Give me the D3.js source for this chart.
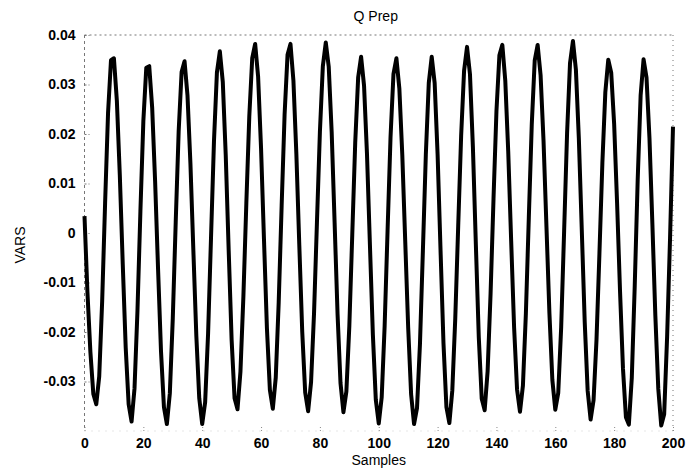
<!DOCTYPE html>
<html>
<head>
<meta charset="utf-8">
<script src="https://cdn.jsdelivr.net/npm/d3@7"></script>
<style>
  html, body { margin: 0; padding: 0; background: #fff; }
  svg text { font-family: "Liberation Sans", Arial, Helvetica, sans-serif; fill: #000; }
</style>
</head>
<body>
<svg id="chart" width="686" height="469"></svg>
<script>
// Reactive power trace, one value per sample (0..200)
const samples = d3.range(0, 201);
const vars = [
  0.0034, -0.0120, -0.0240, -0.0325, -0.0346, -0.0290, -0.0138, 0.0060, 0.0242, 0.0349,
  0.0353, 0.0267, 0.0117, -0.0063, -0.0231, -0.0346, -0.0381, -0.0314, -0.0157, 0.0044,
  0.0226, 0.0334, 0.0337, 0.0253, 0.0104, -0.0073, -0.0239, -0.0352, -0.0386, -0.0324,
  -0.0173, 0.0022, 0.0205, 0.0325, 0.0347, 0.0278, 0.0140, -0.0036, -0.0207, -0.0334,
  -0.0386, -0.0342, -0.0203, -0.0009, 0.0185, 0.0324, 0.0367, 0.0305, 0.0157, -0.0035,
  -0.0216, -0.0334, -0.0356, -0.0280, -0.0128, 0.0060, 0.0235, 0.0353, 0.0382, 0.0316,
  0.0171, -0.0014, -0.0193, -0.0317, -0.0355, -0.0292, -0.0140, 0.0055, 0.0239, 0.0360,
  0.0382, 0.0308, 0.0160, -0.0025, -0.0200, -0.0322, -0.0360, -0.0301, -0.0163, 0.0022,
  0.0204, 0.0337, 0.0385, 0.0336, 0.0204, 0.0021, -0.0164, -0.0303, -0.0362, -0.0320,
  -0.0188, -0.0003, 0.0182, 0.0314, 0.0356, 0.0298, 0.0160, -0.0024, -0.0205, -0.0337,
  -0.0385, -0.0332, -0.0188, 0.0005, 0.0193, 0.0321, 0.0353, 0.0292, 0.0158, -0.0017,
  -0.0191, -0.0326, -0.0386, -0.0354, -0.0225, -0.0036, 0.0158, 0.0303, 0.0356, 0.0303,
  0.0159, -0.0035, -0.0223, -0.0352, -0.0384, -0.0318, -0.0173, 0.0014, 0.0196, 0.0328,
  0.0376, 0.0321, 0.0173, -0.0023, -0.0211, -0.0335, -0.0358, -0.0279, -0.0123, 0.0069,
  0.0246, 0.0359, 0.0380, 0.0308, 0.0165, -0.0016, -0.0191, -0.0316, -0.0361, -0.0308,
  -0.0163, 0.0031, 0.0219, 0.0348, 0.0380, 0.0319, 0.0186, 0.0012, -0.0162, -0.0297,
  -0.0357, -0.0323, -0.0190, 0.0004, 0.0201, 0.0343, 0.0388, 0.0330, 0.0191, 0.0006,
  -0.0180, -0.0319, -0.0377, -0.0338, -0.0216, -0.0041, 0.0142, 0.0284, 0.0350, 0.0324,
  0.0220, 0.0060, -0.0118, -0.0274, -0.0372, -0.0387, -0.0292, -0.0106, 0.0107, 0.0278,
  0.0351, 0.0314, 0.0192, 0.0017, -0.0167, -0.0315, -0.0389, -0.0366, -0.0210, -0.0010,
  0.0215
];
const xTicks = [0, 20, 40, 60, 80, 100, 120, 140, 160, 180, 200];
const yTicks = [0.04, 0.03, 0.02, 0.01, 0, -0.01, -0.02, -0.03];
const xDomain = [0, 200];
const yDomain = [-0.04, 0.04];
const titleText = "Q Prep";
const xLabelText = "Samples";
const yLabelText = "VARS";

const svg = d3.select("#chart");
const plotLeft = 84.5, plotRight = 673, plotTop = 35, plotBottom = 431;

const x = d3.scaleLinear().domain(xDomain).range([plotLeft, plotRight]);
const y = d3.scaleLinear().domain(yDomain).range([plotBottom, plotTop]);

// Faint, broken axis box
const frame = svg.append("g")
  .attr("fill", "none")
  .attr("stroke", "#777")
  .attr("stroke-width", 1)
  .attr("stroke-dasharray", "3,3");
frame.append("line").attr("x1", plotLeft).attr("x2", plotLeft).attr("y1", plotTop).attr("y2", plotBottom);
frame.append("line").attr("x1", plotRight).attr("x2", plotRight).attr("y1", plotTop).attr("y2", plotBottom)
  .attr("stroke-dasharray", "1,4");
frame.append("line").attr("x1", plotLeft).attr("x2", plotRight).attr("y1", plotTop).attr("y2", plotTop)
  .attr("stroke-dasharray", "2,3");
frame.append("line").attr("x1", plotLeft).attr("x2", plotRight).attr("y1", plotBottom).attr("y2", plotBottom)
  .attr("stroke-opacity", 0.35).attr("stroke-dasharray", "1,6");

// Y axis: labels to the left, small inward ticks
const yAxis = d3.axisLeft(y)
  .tickValues(yTicks)
  .tickSize(-5)
  .tickPadding(9)
  .tickFormat(d => d === 0 ? "0" : String(+d.toFixed(2)));
const gy = svg.append("g").attr("transform", `translate(${plotLeft},0)`).call(yAxis);
gy.select(".domain").remove();
gy.selectAll(".tick line").attr("stroke", "#777").attr("stroke-dasharray", "2,2");
gy.selectAll(".tick text")
  .attr("font-size", 14)
  .attr("font-weight", "bold")
  .attr("fill", "#000")
  .attr("font-family", "Liberation Sans, Arial, sans-serif");

// X axis: labels below, small inward ticks
const xAxis = d3.axisBottom(x)
  .tickValues(xTicks)
  .tickSize(-4)
  .tickPadding(7)
  .tickFormat(d3.format("d"));
const gx = svg.append("g").attr("transform", `translate(0,${plotBottom})`).call(xAxis);
gx.select(".domain").remove();
gx.selectAll(".tick line").attr("stroke", "#888").attr("stroke-dasharray", "1,2");
gx.selectAll(".tick text")
  .attr("font-size", 14)
  .attr("font-weight", "bold")
  .attr("fill", "#000")
  .attr("font-family", "Liberation Sans, Arial, sans-serif");

// Trace
const line = d3.line()
  .x((d, i) => x(samples[i]))
  .y(d => y(d));
svg.append("path")
  .datum(vars)
  .attr("fill", "none")
  .attr("stroke", "#000")
  .attr("stroke-width", 4)
  .attr("stroke-linejoin", "round")
  .attr("d", line);

// Title and axis labels
svg.append("text")
  .attr("x", (plotLeft + plotRight) / 2 - 3)
  .attr("y", 21)
  .attr("text-anchor", "middle")
  .attr("font-size", 14)
  .text(titleText);
svg.append("text")
  .attr("x", (plotLeft + plotRight) / 2)
  .attr("y", 465)
  .attr("text-anchor", "middle")
  .attr("font-size", 14)
  .text(xLabelText);
svg.append("text")
  .attr("transform", `translate(25,${(plotTop + plotBottom) / 2 + 12}) rotate(-90)`)
  .attr("text-anchor", "middle")
  .attr("font-size", 14)
  .text(yLabelText);
</script>
</body>
</html>
